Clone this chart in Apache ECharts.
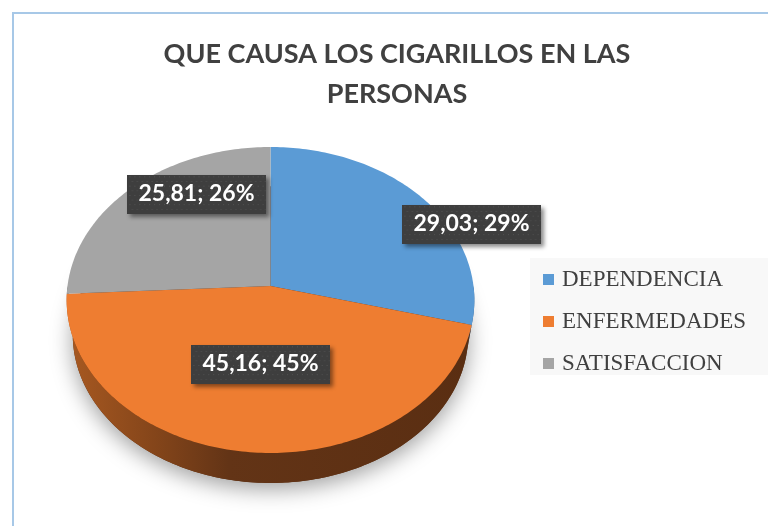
<!DOCTYPE html>
<html>
<head>
	<meta charset="utf-8">
	<title>QUE CAUSA LOS CIGARILLOS EN LAS PERSONAS</title>
	<style>
		html, body { margin: 0; padding: 0; background: #fff; }
		#pie3d { width: 768px; height: 526px; }
	</style>
</head>
<body>
	<div id="pie3d"></div>

<script src="https://cdn.jsdelivr.net/npm/echarts@6/dist/echarts.min.js"></script>
<script>
// data
var categories = ['DEPENDENCIA', 'ENFERMEDADES', 'SATISFACCION'];
var values = [29.03, 45.16, 25.81];

// style
var topColors = ['#5b9bd5', '#ee7d31', '#a5a5a5'];
var wallColors = ['#2f5d8a', null, '#6a6a6a'];
// label box centres, offset from the pie centre (Excel "best fit" places them by hand)
var labelOffset = [[201, -62], [-10, 78], [-74, -92]];

(function(){
	var app = echarts.init(document.getElementById('pie3d'));

	// projected 3D disc: centre, half width, half depth, perspective, thickness
	var G = { cx: 270.5, cy: 286, A: 203, B: 151.7, p: 0.0915, depth: 35, k: 0.97 };

	var total = values.reduce(function(a, b){ return a + b; }, 0);
	var cum = [0];
	values.forEach(function(v, i){ cum.push(cum[i] + v / total * Math.PI * 2); });

	function proj(t, bottom) {
		var u = Math.sin(t), v = -Math.cos(t);
		var s = bottom ? G.k : 1;
		var w = 1 - G.p * v;
		return [G.cx + G.A * s * u / w, G.cy + (bottom ? G.depth : 0) + G.B * s * v / w];
	}
	function arc(a, b, bottom) {
		var pts = [], n = Math.max(2, Math.ceil(Math.abs(b - a) / (Math.PI / 180)));
		for (var i = 0; i <= n; i++) pts.push(proj(a + (b - a) * i / n, bottom));
		return pts;
	}

	// dotted fill for the label boxes
	var dots = document.createElement('canvas');
	dots.width = 140; dots.height = 42;
	var ctx = dots.getContext('2d');
	ctx.fillStyle = '#3e3e3e';
	ctx.fillRect(0, 0, 140, 42);
	ctx.fillStyle = '#555555';
	for (var yy = 2; yy < 42; yy += 5) {
		for (var xx = (yy % 10 === 2 ? 2 : 4.5); xx < 140; xx += 5) ctx.fillRect(xx, yy, 1, 1);
	}

	var seriesData = values.map(function(v, i){ return { name: categories[i], value: v }; });

	option = {
		animation: false,
		title: {
			text: 'QUE CAUSA LOS CIGARILLOS EN LAS\nPERSONAS',
			left: 397,
			top: 34,
			padding: 0,
			textAlign: 'center',
			textStyle: {
				fontFamily: 'Lato',
				fontWeight: 'bold',
				fontSize: 27,
				lineHeight: 40,
				color: '#404040'
			}
		},
		legend: {
			orient: 'vertical',
			left: 543,
			top: 268,
			padding: 0,
			itemGap: 19,
			itemWidth: 11,
			itemHeight: 11,
			icon: 'rect',
			selectedMode: false,
			data: categories,
			textStyle: {
				fontFamily: 'Liberation Serif',
				fontSize: 23,
				lineHeight: 23,
				color: '#404040',
				padding: [0, 0, 0, 3]
			}
		},
		graphic: [
			{ type: 'rect', z: 0, shape: { x: 13, y: 13, width: 800, height: 600 }, style: { fill: null, stroke: '#a7c8e7', lineWidth: 2 } },
			{ type: 'rect', z: 0, shape: { x: 530, y: 258, width: 240, height: 117 }, style: { fill: '#f8f8f8' } }
		],
		series: [
			// only here to feed the legend
			{
				type: 'pie',
				radius: [0, 0],
				silent: true,
				label: { show: false },
				labelLine: { show: false },
				color: topColors,
				data: seriesData
			},
			// side walls
			{
				type: 'custom',
				coordinateSystem: 'none',
				z: 1,
				silent: true,
				data: seriesData,
				renderItem: function(params, api){
					var i = params.dataIndex;
					var a = Math.max(cum[i], Math.PI / 2), b = Math.min(cum[i + 1], Math.PI * 1.5);
					var children = [];
					if (i === 0) {
						// shadow under the whole disc
						children.push({
							type: 'polygon',
							shape: { points: arc(0, Math.PI * 2, true) },
							style: { fill: '#5c2f12', shadowBlur: 22, shadowColor: 'rgba(0,0,0,0.38)', shadowOffsetY: 6 }
						});
					}
					if (b > a) {
						var pts = arc(a, b, false).concat(arc(b, a, true));
						var fill = wallColors[i] || new echarts.graphic.LinearGradient(0, 0, 1, 0, [
							{ offset: 0, color: '#a85921' },
							{ offset: 0.22, color: '#84451a' },
							{ offset: 0.4, color: '#633416' },
							{ offset: 1, color: '#5a2e12' }
						]);
						children.push({ type: 'polygon', shape: { points: pts }, style: { fill: fill } });
					}
					return { type: 'group', children: children };
				}
			},
			// top faces
			{
				type: 'custom',
				coordinateSystem: 'none',
				z: 2,
				silent: true,
				data: seriesData,
				renderItem: function(params, api){
					var i = params.dataIndex;
					var pts = [[G.cx, G.cy]].concat(arc(cum[i], cum[i + 1], false));
					return { type: 'polygon', shape: { points: pts }, style: { fill: topColors[i] } };
				}
			},
			// data labels
			{
				type: 'custom',
				coordinateSystem: 'none',
				z: 3,
				silent: true,
				data: seriesData,
				renderItem: function(params, api){
					var i = params.dataIndex;
					var v = api.value(0);
					var txt = v.toFixed(2).replace('.', ',') + '; ' + Math.round(v / total * 100) + '%';
					return {
						type: 'text',
						x: G.cx + labelOffset[i][0],
						y: G.cy + labelOffset[i][1],
						style: {
							text: txt,
							fill: '#ffffff',
							font: 'bold 23px Lato',
							align: 'center',
							verticalAlign: 'middle',
							padding: [8, 11, 8, 11],
							backgroundColor: { image: dots },
							shadowBlur: 4,
							shadowColor: 'rgba(0,0,0,0.45)',
							shadowOffsetX: 3,
							shadowOffsetY: 3
						}
					};
				}
			}
		]
	};

	app.setOption(option);
})();
</script>
</body>
</html>
